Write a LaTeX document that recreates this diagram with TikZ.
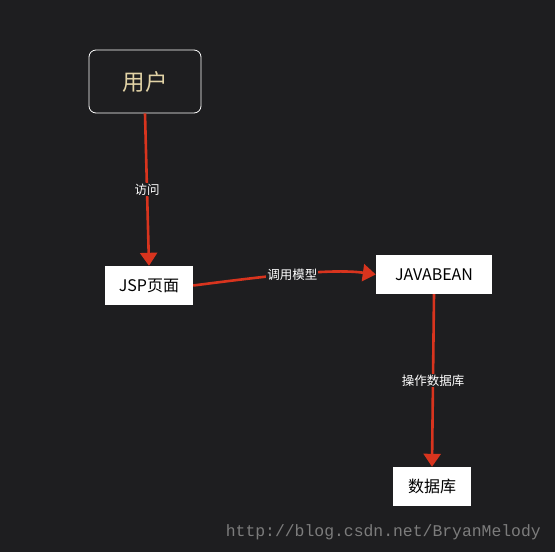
\documentclass[tikz,border=0pt]{standalone}
\usepackage{fontspec}
\newfontfamily\cjk{Noto Sans CJK SC}
\newfontfamily\wmfont{Liberation Mono}
\usetikzlibrary{arrows.meta, positioning}

\definecolor{bgdark}{HTML}{1E1E20}
\definecolor{flowred}{HTML}{D8341E}
\definecolor{usertan}{HTML}{E2D3A6}
\definecolor{markgray}{HTML}{7C7C7C}

\tikzset{
    whitebox/.style={fill=white, text=black, inner sep=0pt, font=\cjk\fontsize{16}{18}\selectfont},
    userbox/.style={draw=white, rounded corners=7pt, line width=0.8pt, text=usertan, inner sep=0pt, font=\cjk\fontsize{22.5}{24}\selectfont},
    flow/.style={draw=flowred, line width=2.6pt, -{Triangle[width=17pt, length=13pt]}},
    flowlabel/.style={fill=bgdark, text=white, inner sep=1pt, font=\cjk\fontsize{12.5}{14}\selectfont}
}

\begin{document}
\begin{tikzpicture}[x=1pt, y=-1pt]

% --- Background ---
\fill[bgdark] (0,0) rectangle (555,552);
\useasboundingbox (0,0) rectangle (555,552);

% --- Nodes ---
\node[userbox, minimum width=112pt, minimum height=63pt] (user) at (145,81.5) {用户};
\node[whitebox, minimum width=88pt, minimum height=39pt] (jsp) at (149,285.5) {JSP页面};
\node[whitebox, minimum width=116pt, minimum height=39pt] (bean) at (434,274.5) {JAVABEAN};
\node[whitebox, minimum width=78pt, minimum height=39pt] (db) at (432,486.5) {数据库};

% --- Connectors ---
\draw[flow] (user.south) -- (jsp.north) node[flowlabel, pos=0.5] {访问};
\draw[flow] (jsp.east) .. controls (260,277) and (330,268) .. (bean.west)
    node[flowlabel, pos=0.5] {调用模型};
\draw[flow] (bean.south) -- (db.north) node[flowlabel, pos=0.5] {操作数据库};

% --- Watermark ---
\node[text=markgray, anchor=east, inner sep=0pt, font=\wmfont\fontsize{16.4}{18}\selectfont] (mark) at (541,532) {http://blog.csdn.net/BryanMelody};

\end{tikzpicture}
\end{document}
